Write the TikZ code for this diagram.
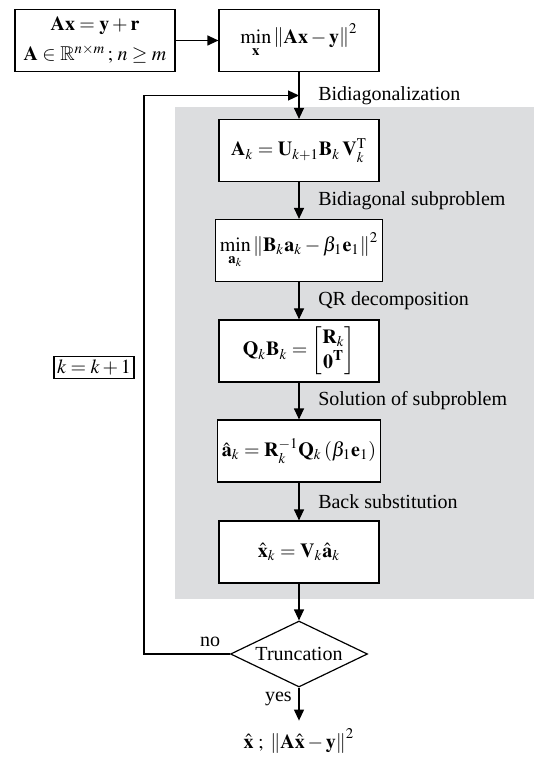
\documentclass[tikz,border=0pt]{standalone}
\usepackage{amsmath}
\usepackage{amssymb}
\usepackage{mathptmx}
\usepackage{fontspec}
\setmainfont{Liberation Serif}
\usetikzlibrary{shapes.geometric,arrows.meta}

\begin{document}
\begin{tikzpicture}[x=0.5pt,y=-0.5pt,
  box/.style={draw, line width=0.6pt, minimum width=80pt, minimum height=31pt, fill=white, inner sep=2pt, align=center},
  arr/.style={line width=0.6pt, -{Triangle[length=5.5pt,width=5pt]}},
  lbl/.style={right, xshift=6pt}]

% Colori
\definecolor{bgGray}{HTML}{DCDDDF}

\useasboundingbox (0,0) rectangle (535,758);

% Sfondo del ciclo
\fill[bgGray] (175,107) rectangle (534,599);

% Blocchi
\node[box] (in) at (95,40.5) {$\mathbf{Ax}=\mathbf{y}+\mathbf{r}$\\[3pt] $\mathbf{A}\in\mathbb{R}^{n\times m}\,;\,n\geq m$};
\node[box] (ls) at (299,40.5) {$\min\limits_{\mathbf{x}}\left\|\mathbf{Ax}-\mathbf{y}\right\|^2$};
\node[box] (bid) at (299,150.5) {$\mathbf{A}_k=\mathbf{U}_{k+1}\mathbf{B}_k\,\mathbf{V}_k^{\mathrm{T}}$};
\node[box] (sub) at (299,250.5) {$\min\limits_{\mathbf{a}_k}\left\|\mathbf{B}_k\mathbf{a}_k-\beta_1\mathbf{e}_1\right\|^2$};
\node[box] (qr) at (299,351) {$\mathbf{Q}_k\mathbf{B}_k=\begin{bmatrix}\mathbf{R}_k\\ \mathbf{0}^{\mathbf{T}}\end{bmatrix}$};
\node[box] (sol) at (299,451) {$\hat{\mathbf{a}}_k=\mathbf{R}_k^{-1}\mathbf{Q}_k\left(\beta_1\mathbf{e}_1\right)$};
\node[box] (bs) at (299,552) {$\hat{\mathbf{x}}_k=\mathbf{V}_k\hat{\mathbf{a}}_k$};

% Test di arresto
\node[draw, diamond, aspect=2.1, minimum width=68.5pt, minimum height=33pt, inner sep=0pt, line width=0.6pt] (trunc) at (299,654) {Truncation};
\node[inner sep=4pt] (out) at (299,741) {$\hat{\mathbf{x}}\;;\;\left\|\mathbf{A}\hat{\mathbf{x}}-\mathbf{y}\right\|^2$};

% Contatore
\node[draw, line width=0.6pt, inner sep=1.5pt] (kk) at (94,367.5) {$k=k+1$};

\coordinate (join) at (299,95.5);
\coordinate (loop) at (144,95.5);

% Collegamenti
\draw[arr] (in) -- (ls);
\draw[arr] (ls) -- node[lbl]{Bidiagonalization} (bid);
\draw[arr] (bid) -- node[lbl]{Bidiagonal subproblem} (sub);
\draw[arr] (sub) -- node[lbl]{QR decomposition} (qr);
\draw[arr] (qr) -- node[lbl]{Solution of subproblem} (sol);
\draw[arr] (sol) -- node[lbl]{Back substitution} (bs);
\draw[arr] (bs) -- (trunc);
\draw[arr] (trunc) -- node[left, pos=0.35]{yes} (out);
\draw[arr] (trunc.west) -- node[above, pos=0.23]{no} (trunc.west -| loop) -- (loop) -- (join);
\end{tikzpicture}
\end{document}
